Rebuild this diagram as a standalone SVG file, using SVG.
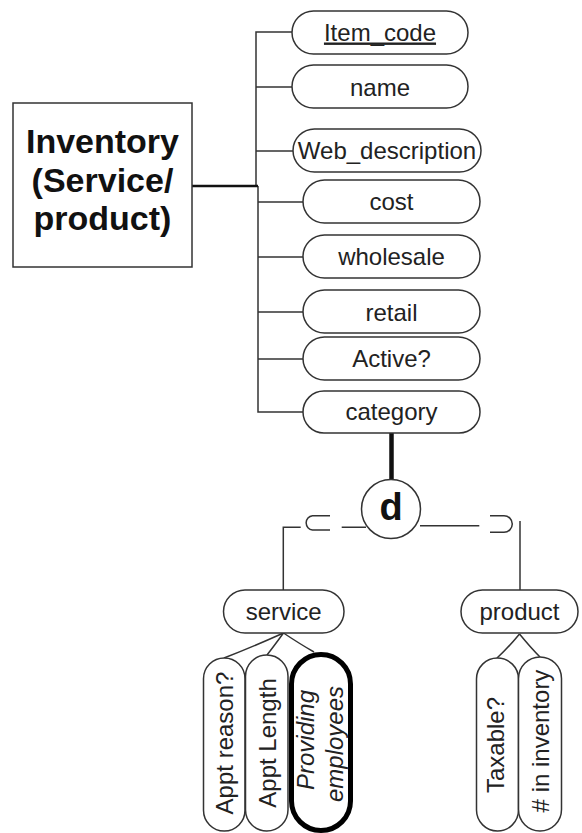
<svg xmlns="http://www.w3.org/2000/svg" width="582" height="833" viewBox="0 0 582 833">
<style>
.attr{fill:#fff;stroke:#333;stroke-width:1.5}
.t{font-family:"Liberation Sans",Arial,sans-serif;font-size:24px;fill:#222;text-anchor:middle}
.ln{fill:none;stroke:#333;stroke-width:1.5}
</style>
<rect width="582" height="833" fill="#fff"/>
<g id="connectors">
<path class="ln" d="M292 32H256V186M256 87H292M256 151H293"/>
<path class="ln" d="M258 186V412H303M258 202H303M258 257H303M258 312H303M258 359H303"/>
<path d="M192 186H258" stroke="#111" stroke-width="2.5" fill="none"/>
<path d="M391.5 433V480" stroke="#111" stroke-width="4.5" fill="none"/>
<path class="ln" d="M366 527.3H341.7M300.7 527.3H283.3V590"/>
<path class="ln" d="M330 515.7H312.5A7.2 7.2 0 0 0 312.5 530H330"/>
<path class="ln" d="M420 525.7H479.3"/>
<path class="ln" d="M490 515.7H504A8.3 8.3 0 0 1 504 532.3H490"/>
<path class="ln" d="M520 521V590"/>
<path class="ln" d="M283.5 633Q250 648 224 658M283.5 633Q274 646 267 655M283.5 633Q300 644 314 652"/>
<path class="ln" d="M519.5 634Q508 648 497 658M519.5 634Q531 648 540 657"/>
</g>
<g id="inventory">
<rect x="13" y="103" width="179" height="164" fill="#fff" stroke="#333" stroke-width="1.5"/>
<text font-family="'Liberation Sans',Arial,sans-serif" font-size="34" font-weight="bold" fill="#111" text-anchor="middle"><tspan x="102.5" y="153">Inventory</tspan><tspan x="102.5" y="192">(Service/</tspan><tspan x="102.5" y="230">product)</tspan></text>
</g>
<g id="item_code"><rect class="attr" x="292" y="11" width="176" height="43" rx="21.5"/><text class="t" x="380" y="40.5" text-decoration="underline">Item_code</text></g>
<g id="name"><rect class="attr" x="292" y="65" width="176" height="43" rx="21.5"/><text class="t" x="380" y="95.5">name</text></g>
<g id="web_description"><rect class="attr" x="293" y="129" width="188" height="43" rx="21.5"/><text class="t" x="387" y="159">Web_description</text></g>
<g id="cost"><rect class="attr" x="303" y="180" width="177" height="43" rx="21.5"/><text class="t" x="391.5" y="210">cost</text></g>
<g id="wholesale"><rect class="attr" x="303" y="235" width="177" height="43" rx="21.5"/><text class="t" x="391.5" y="265">wholesale</text></g>
<g id="retail"><rect class="attr" x="303" y="290" width="177" height="43" rx="21.5"/><text class="t" x="391.5" y="320.5">retail</text></g>
<g id="active"><rect class="attr" x="303" y="337" width="177" height="43" rx="21.5"/><text class="t" x="391.5" y="367">Active?</text></g>
<g id="category"><rect class="attr" x="303" y="391" width="177" height="42" rx="21"/><text class="t" x="391.5" y="420">category</text></g>
<g id="disjoint"><circle cx="391" cy="509" r="29.5" fill="#fff" stroke="#333" stroke-width="1.5"/><text x="391" y="520" font-family="'Liberation Sans',Arial,sans-serif" font-size="38" font-weight="bold" fill="#111" text-anchor="middle">d</text></g>
<g id="service"><rect class="attr" x="223.5" y="590" width="120.5" height="43" rx="21.5"/><text class="t" x="283.7" y="620">service</text></g>
<g id="product"><rect class="attr" x="461" y="590" width="117" height="43" rx="21.5"/><text class="t" x="519.5" y="620">product</text></g>
<g id="appt_reason"><rect class="attr" x="203.5" y="658" width="41.5" height="173" rx="20.75"/><text class="t" transform="translate(232.5 743) rotate(-90)">Appt reason?</text></g>
<g id="appt_length"><rect class="attr" x="245.5" y="655" width="42.5" height="176" rx="21.25"/><text class="t" transform="translate(275.5 743) rotate(-90)">Appt Length</text></g>
<g id="providing_employees"><rect x="291.5" y="654.5" width="59" height="176" rx="29.5" fill="#fff" stroke="#000" stroke-width="5"/><text class="t" font-style="italic" transform="translate(314 740) rotate(-90)">Providing</text><text class="t" font-style="italic" transform="translate(343 744) rotate(-90)">employees</text></g>
<g id="taxable"><rect class="attr" x="476.5" y="658" width="42" height="173" rx="21"/><text class="t" transform="translate(504 745) rotate(-90)">Taxable?</text></g>
<g id="in_inventory"><rect class="attr" x="518.5" y="657" width="43" height="174" rx="21.5"/><text class="t" transform="translate(548.5 741) rotate(-90)"># in inventory</text></g>
</svg>
